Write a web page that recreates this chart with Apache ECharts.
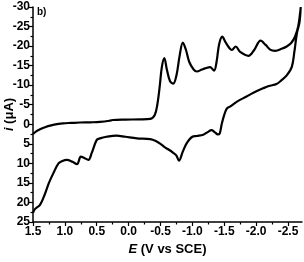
<!DOCTYPE html>
<html><head><meta charset="utf-8">
<script src="https://cdn.jsdelivr.net/npm/echarts@6/dist/echarts.min.js"></script>
<style>html,body{margin:0;padding:0;background:#fff}#c{width:304px;height:262px}</style>
</head><body><div id="c"></div>
<script>
// Potential (V vs SCE) and current (µA), in scan order
var potential = [1.50,1.45,1.39,1.30,1.23,1.10,1.03,0.90,0.76,0.60,0.45,0.30,0.25,0.05,-0.18,-0.34,-0.41,-0.45,-0.49,-0.52,-0.56,-0.60,-0.65,-0.70,-0.75,-0.80,-0.85,-0.90,-0.95,-1.02,-1.07,-1.15,-1.20,-1.28,-1.34,-1.38,-1.42,-1.47,-1.52,-1.58,-1.62,-1.68,-1.75,-1.88,-1.97,-2.07,-2.15,-2.22,-2.30,-2.40,-2.48,-2.55,-2.61,-2.66,-2.69,-2.70,
 -2.68,-2.64,-2.60,-2.56,-2.48,-2.40,-2.32,-2.20,-2.11,-1.95,-1.85,-1.70,-1.59,-1.54,-1.50,-1.46,-1.43,-1.40,-1.35,-1.30,-1.24,-1.17,-1.07,-1.00,-0.91,-0.85,-0.79,-0.75,-0.70,-0.62,-0.57,-0.50,-0.44,-0.34,-0.13,0.05,0.19,0.35,0.45,0.50,0.58,0.63,0.71,0.75,0.81,0.88,0.97,1.04,1.10,1.18,1.25,1.31,1.39,1.47,1.50];
var current = [2.5,1.8,1.3,0.7,0.35,-0.1,-0.25,-0.35,-0.45,-0.5,-0.6,-0.9,-1.1,-1.2,-1.25,-1.4,-2.4,-5,-10,-14.5,-16.9,-14,-11,-10.4,-12.5,-17.5,-20.9,-19,-16,-14,-13.5,-14.0,-14.3,-14.6,-13.7,-16,-20.5,-22.4,-21,-19.5,-19.0,-19.9,-18.5,-17.5,-19,-21.4,-20.3,-19.1,-18.8,-19.3,-19.9,-20.8,-22.4,-25,-28.4,-30,
 -26,-23.3,-18.5,-14.7,-12.5,-11.3,-10.3,-9.8,-9.2,-8.0,-7.1,-5.8,-4.5,-4.0,-2.4,0,2.3,2.6,2.0,1.5,2.0,2.7,3.0,3.2,4.9,7.0,9.3,8.0,7.3,6.4,5.9,5.0,4.4,3.8,3.6,3.2,2.9,3.2,3.6,4.0,7.4,9.1,8.5,8.3,10.2,9.6,9.1,9.4,10.0,12.5,15.0,17.7,20.6,21.7,22.7];
var xTickLabels = [1.5,1.0,0.5,0.0,-0.5,-1.0,-1.5,-2.0,-2.5];
var xMinorTicks = [1.25,0.75,0.25,-0.25,-0.75,-1.25,-1.75,-2.25];

var data = potential.map(function(v,i){return [v,current[i]];});
var font = 'Liberation Sans';
var chart = echarts.init(document.getElementById('c'));
chart.setOption({
  animation:false,
  grid:{left:33,right:2,top:7,bottom:40,outerBoundsMode:'none',containLabel:false},
  xAxis:[{
    type:'value', inverse:true, min:-2.72, max:1.5,
    axisLine:{onZero:false,lineStyle:{color:'#000',width:1.5}},
    axisTick:{show:true,inside:false,length:4,lineStyle:{color:'#000',width:1.2},customValues:xTickLabels},
    axisLabel:{customValues:xTickLabels,color:'#000',fontFamily:font,fontWeight:'bold',fontSize:12,margin:4,
      formatter:function(v){return (Math.abs(v)<1e-9?0:v).toFixed(1);}},
    splitLine:{show:false},
    name:'{it|E} (V vs SCE)', nameLocation:'middle', nameGap:21, nameMoveOverlap:false,
    nameTextStyle:{color:'#000',fontFamily:font,fontWeight:'bold',fontSize:13,
      rich:{it:{fontStyle:'italic',fontWeight:'bold',fontFamily:font,fontSize:13,color:'#000'}}}
  },{
    type:'value', inverse:true, min:-2.72, max:1.5, position:'bottom',
    axisLine:{show:false,onZero:false},
    axisTick:{show:true,length:2.5,lineStyle:{color:'#000',width:1.2},customValues:xMinorTicks},
    axisLabel:{show:false}, splitLine:{show:false}
  }],
  yAxis:{
    type:'value', inverse:true, min:-30, max:25, interval:5,
    axisLine:{show:true,onZero:false,lineStyle:{color:'#000',width:1.5}},
    axisTick:{show:true,length:4,lineStyle:{color:'#000',width:1.2}},
    minorTick:{show:true,splitNumber:2,length:2.5,lineStyle:{color:'#000',width:1.2}},
    axisLabel:{color:'#000',fontFamily:font,fontWeight:'bold',fontSize:12,margin:3},
    splitLine:{show:false},
    name:'{it|i} (μA)', nameLocation:'middle', nameGap:17, nameMoveOverlap:false,
    nameTextStyle:{color:'#000',fontFamily:font,fontWeight:'bold',fontSize:13,
      rich:{it:{fontStyle:'italic',fontWeight:'bold',fontFamily:font,fontSize:13,color:'#000'}}}
  },
  graphic:[{type:'text',left:37,top:7,style:{text:'b)',fill:'#000',font:'bold 10px "Liberation Sans"'}}],
  series:[{
    type:'line', data:data, xAxisIndex:0, showSymbol:false, smooth:0.35,
    lineStyle:{color:'#000',width:2.2}
  }]
});
</script></body></html>
